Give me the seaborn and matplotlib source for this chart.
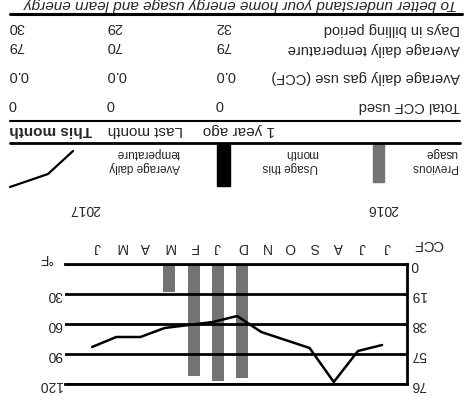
import numpy as np
import pandas as pd
import matplotlib
matplotlib.use('Agg')
import matplotlib.pyplot as plt
import seaborn as sns
from matplotlib.patches import Rectangle
from matplotlib.lines import Line2D

# =============================================================================
# DATA (the scanned bill is printed upside down, so everything is drawn rotated)
months = ['J', 'J', 'A', 'S', 'O', 'N', 'D', 'J', 'F', 'M', 'A', 'M', 'J']
prev_usage = [0, 0, 0, 0, 0, 0, 72, 74, 71, 18, 0, 0, 0]      # [CCF] previous usage
this_usage = [0, 0, 0, 0, 0, 0, 0, 0, 0, 0, 0, 0, 0]          # [CCF] usage this month
avg_temp = [81, 87, 118, 84, 76, 68, 52, 58, 61, 64, 73, 73, 83]  # [F]
ccf_ticks = [0, 19, 38, 57, 76]
temp_ticks = [30, 60, 90, 120]
years = ['2016', '2017']

row_labels = ['Days in billing period', 'Average daily temperature',
              'Average daily gas use (CCF)', 'Total CCF used']
col_heads = ['1 year ago', 'Last month', 'This month']
year_ago = ['32', '79', '0.0', '0']
last_month = ['29', '70', '0.0', '0']
this_month = ['30', '79', '0.0', '0']
legend_labels = [['Previous', 'usage'], ['Usage this', 'month'],
                 ['Average daily', 'temperature']]
footer = 'To better understand your home energy usage and learn energy'

# =============================================================================
sns.set_style('white')
plt.rcParams['font.family'] = ['Liberation Sans', 'DejaVu Sans']

W, H = 474, 402
fig = plt.figure(figsize=(W/100, H/100), dpi=100)

def utext(x, y, s, ha='left', size=10, **kw):
    # x, y in pixels of the (rotated) picture, anchor = upright baseline point
    return fig.text(x/W, 1 - y/H, s, rotation=180, rotation_mode='anchor',
                    ha=ha, va='baseline', fontsize=size, **kw)

def hline(y, x0, x1, lw=2.0):
    fig.add_artist(Line2D([x0/W, x1/W], [1 - y/H]*2, color='black', lw=lw))

# ----------------------------------------------------------------- chart
ax = fig.add_axes([65/W, 1 - 385/H, (407 - 65)/W, 120/H])
df = pd.DataFrame({'idx': np.arange(13), 'prev': prev_usage, 'this': this_usage})
sns.barplot(data=df, x='idx', y='prev', ax=ax, color='#737373', width=0.5,
            saturation=1, errorbar=None, linewidth=0)
sns.barplot(data=df, x='idx', y='this', ax=ax, color='black', width=0.5,
            saturation=1, errorbar=None, linewidth=0)

ax2 = ax.twinx()
sns.lineplot(x=np.arange(13) + 0.2, y=avg_temp, ax=ax2, color='black', lw=1.8)

ax.set_xlim(13.32, -0.83)
ax.set_ylim(76, 0)
ax2.set_ylim(120, 0)

ax.set_xticks(range(13))
ax.set_xticklabels(months)
ax.xaxis.tick_top()
ax.tick_params(axis='x', length=0, pad=8, labelrotation=180, labelsize=10)
ax.set_yticks(ccf_ticks)
ax.yaxis.tick_right()
ax.tick_params(axis='y', length=0, pad=3, labelrotation=180, labelsize=10)
ax2.set_yticks(temp_ticks)
ax2.yaxis.tick_left()
ax2.tick_params(axis='y', length=0, pad=2, labelrotation=180, labelsize=10)
for t in ax.get_yticklabels() + ax2.get_yticklabels():
    t.set_va('center')
ax.set_xlabel('')
ax.set_ylabel('')
ax2.set_ylabel('')

ax.grid(axis='y', color='black', lw=2.0)
ax.grid(axis='x', visible=False)
ax.set_axisbelow(False)
for s in ['top', 'bottom', 'right']:
    ax.spines[s].set_color('black')
    ax.spines[s].set_linewidth(2.0)
ax.spines['left'].set_visible(False)
for s in ax2.spines.values():
    s.set_visible(False)

utext(443, 240, 'CCF', size=10.5)
utext(53, 254, '\u00b0F', size=10)
utext(398, 205, years[0], size=10)
utext(100, 205, years[1], size=10)

# ----------------------------------------------------------------- legend
fig.add_artist(Rectangle((373/W, 1 - 183/H), 11/W, 38/H, color='#737373',
                         transform=fig.transFigure))
fig.add_artist(Rectangle((217/W, 1 - 187/H), 13/W, 42/H, color='black',
                         transform=fig.transFigure))
fig.add_artist(Line2D(np.array([10, 48, 73])/W, 1 - np.array([188, 175, 152])/H,
                      color='black', lw=1.6))
for (l1, l2), x in zip(legend_labels, [457, 318, 180]):
    utext(x, 164.5, l1, size=8.5)
    utext(x, 150, l2, size=8.5)

# ----------------------------------------------------------------- table
hline(144, 10, 460)
hline(122, 10, 460, lw=1.5)
hline(14.5, 10, 462, lw=2.2)
for txt, x in zip(col_heads, [275, 183, 92]):
    utext(x, 126, txt, size=11, weight='bold' if txt == 'This month' else 'normal')

row_base = [24, 43, 72, 101]
for lab, yb in zip(row_labels, row_base):
    utext(460, yb + 1.5, lab, size=10.5)
for col, x in zip([year_ago, last_month, this_month], [215, 106, 8]):
    for v, yb in zip(col, row_base):
        utext(x, yb - 1, v, ha='right', size=10.5)

utext(457, 0, footer, size=11, style='italic')

fig.savefig('out.png', dpi=100)
